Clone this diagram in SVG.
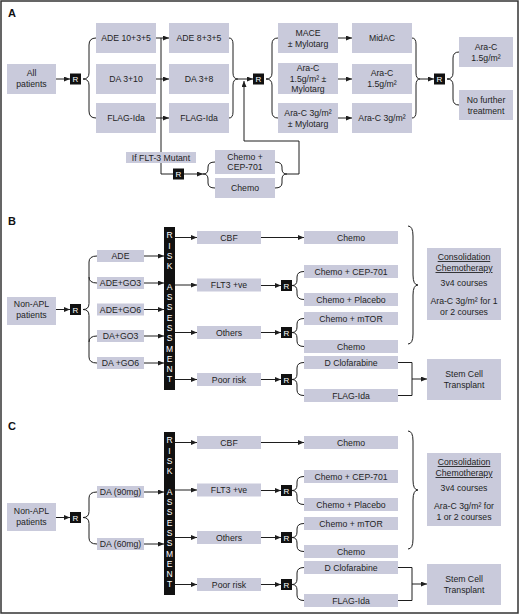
<svg xmlns="http://www.w3.org/2000/svg" width="520" height="615" viewBox="0 0 520 615">
<defs>
<marker id="ah" markerWidth="6" markerHeight="5" refX="6" refY="2.5" orient="auto" markerUnits="userSpaceOnUse"><path d="M0,0 L6,2.5 L0,5 z" fill="#1e1e1e"/></marker>
<style>
.box{fill:#c9cadb}
.t{font-family:"Liberation Sans",Arial,sans-serif;font-size:8.7px;fill:#1e1e1e;text-anchor:middle}
.rb{fill:#111}
.rt{font-family:"Liberation Sans",Arial,sans-serif;font-size:8px;fill:#fff;text-anchor:middle}
.vt{font-family:"Liberation Sans",Arial,sans-serif;font-size:8.5px;fill:#fff;text-anchor:middle}
.ln{stroke:#1e1e1e;stroke-width:1;fill:none}
.ar{marker-end:url(#ah)}
.lbl{font-family:"Liberation Sans",Arial,sans-serif;font-size:11px;font-weight:bold;fill:#111}
.u{text-decoration:underline}
</style>
</defs>
<rect x="0" y="0" width="520" height="615" fill="#fff"/>
<rect x="1" y="1" width="517" height="612" fill="none" stroke="#333" stroke-width="1.5"/>

<!-- ============ A ============ -->
<text class="lbl" x="8" y="17">A</text>
<g id="connectors">
<!-- A -->
<path class="ln ar" d="M56,79 L70,79"/>
<path class="ln" d="M96,38 Q89,38 89,45 L89,73 Q89,79 83,79 Q89,79 89,85 L89,111 Q89,118 96,118"/>
<path class="ln ar" d="M156,38 L169,38"/>
<path class="ln ar" d="M156,79 L169,79"/>
<path class="ln ar" d="M156,118 L169,118"/>
<path class="ln" d="M161,38 L161,174 L173,174"/>
<path class="ln ar" d="M184,174 L203,174"/>
<path class="ln" d="M215,162 Q208,162 208,167 L208,169 Q208,174 203,174 Q208,174 208,179 L208,183 Q208,188 215,188"/>
<path class="ln" d="M275,162 Q282,162 282,167 L282,169 Q282,174 287,174 Q282,174 282,179 L282,183 Q282,188 275,188"/>
<path class="ln ar" d="M287,174 L299,174 L299,141 L244,141 L244,81"/>
<path class="ln" d="M229,38 Q233,38 233,44 L233,73 Q233,79 238,79 Q233,79 233,85 L233,112 Q233,118 229,118"/>
<path class="ln ar" d="M238,79 L253,79"/>
<path class="ln" d="M278,38 Q272,38 272,44 L272,73 Q272,79 266,79 Q272,79 272,85 L272,112 Q272,118 278,118"/>
<path class="ln ar" d="M338,38 L352,38"/>
<path class="ln ar" d="M338,79 L352,79"/>
<path class="ln ar" d="M338,118 L352,118"/>
<path class="ln" d="M412,38 Q416,38 416,44 L416,73 Q416,79 420,79 Q416,79 416,85 L416,112 Q416,118 412,118"/>
<path class="ln ar" d="M420,79 L434,79"/>
<path class="ln" d="M459,52 Q453,52 453,58 L453,73 Q453,79 447,79 Q453,79 453,85 L453,99 Q453,105 459,105"/>

<!-- B -->
<path class="ln ar" d="M56,309.5 L70,309.5"/>
<path class="ln" d="M97,256 Q89,256 89,262 L89,303.5 Q89,309.5 83,309.5 Q89,309.5 89,315.5 L89,357 Q89,363 97,363"/>
<path class="ln" d="M89,277 Q89,283 97,283"/>
<path class="ln" d="M89,342 Q89,336 97,336"/>
<path class="ln ar" d="M144,256 L164,256"/>
<path class="ln ar" d="M144,283 L164,283"/>
<path class="ln ar" d="M144,309.5 L164,309.5"/>
<path class="ln ar" d="M144,336 L164,336"/>
<path class="ln ar" d="M144,363 L164,363"/>
<path class="ln ar" d="M175,237.5 L197,237.5"/>
<path class="ln ar" d="M175,285 L197,285"/>
<path class="ln ar" d="M175,332.5 L197,332.5"/>
<path class="ln ar" d="M175,379.5 L197,379.5"/>
<path class="ln ar" d="M261,237.5 L304,237.5"/>
<path class="ln ar" d="M261,285.5 L281,285.5"/>
<path class="ln ar" d="M261,332.5 L281,332.5"/>
<path class="ln ar" d="M261,379.5 L281,379.5"/>
<path class="ln" d="M304,271.5 Q297,271.5 297,277 L297,280 Q297,285.5 292,285.5 Q297,285.5 297,291 L297,294 Q297,299.5 304,299.5"/>
<path class="ln" d="M304,318.5 Q297,318.5 297,324 L297,327 Q297,332.5 292,332.5 Q297,332.5 297,338 L297,341 Q297,346.5 304,346.5"/>
<path class="ln" d="M304,362.5 Q297,362.5 297,368 L297,374 Q297,379.5 292,379.5 Q297,379.5 297,385 L297,390 Q297,395.5 304,395.5"/>
<path class="ln" d="M398,362.5 L412,362.5 L412,395.5 L398,395.5"/>
<path class="ln ar" d="M412,379 L427,379"/>
<path class="ln" d="M408,226 Q413,226 413,236 L413,275 Q413,285 418,285 Q413,285 413,295 L413,334 Q413,344 408,344"/>

<!-- C -->
<path class="ln ar" d="M56,517.5 L70,517.5"/>
<path class="ln" d="M97,492 Q89,492 89,498 L89,511.5 Q89,517.5 83,517.5 Q89,517.5 89,523.5 L89,538 Q89,544 97,544"/>
<path class="ln ar" d="M144,492 L164,492"/>
<path class="ln ar" d="M144,544 L164,544"/>
<path class="ln ar" d="M175,442.5 L197,442.5"/>
<path class="ln ar" d="M175,490 L197,490"/>
<path class="ln ar" d="M175,537.5 L197,537.5"/>
<path class="ln ar" d="M175,584.5 L197,584.5"/>
<path class="ln ar" d="M261,442.5 L304,442.5"/>
<path class="ln ar" d="M261,490.5 L281,490.5"/>
<path class="ln ar" d="M261,537.5 L281,537.5"/>
<path class="ln ar" d="M261,584.5 L281,584.5"/>
<path class="ln" d="M304,476.5 Q297,476.5 297,482 L297,485 Q297,490.5 292,490.5 Q297,490.5 297,496 L297,499 Q297,504.5 304,504.5"/>
<path class="ln" d="M304,523.5 Q297,523.5 297,529 L297,532 Q297,537.5 292,537.5 Q297,537.5 297,543 L297,546 Q297,551.5 304,551.5"/>
<path class="ln" d="M304,567.5 Q297,567.5 297,573 L297,579 Q297,584.5 292,584.5 Q297,584.5 297,590 L297,595 Q297,600.5 304,600.5"/>
<path class="ln" d="M398,567.5 L412,567.5 L412,600.5 L398,600.5"/>
<path class="ln ar" d="M412,584 L427,584"/>
<path class="ln" d="M408,431 Q413,431 413,441 L413,480 Q413,490 418,490 Q413,490 413,500 L413,539 Q413,549 408,549"/>
</g>

<!-- A nodes -->
<g id="a-all"><rect class="box" x="7" y="64" width="49" height="30"/><text class="t" x="31.5" y="76">All</text><text class="t" x="31.5" y="87">patients</text></g>
<g id="a-r1"><rect class="rb" x="70" y="73.5" width="11" height="11"/><text class="rt" x="75.5" y="82">R</text></g>
<g id="a-ade1"><rect class="box" x="96" y="23" width="60" height="30"/><text class="t" x="126" y="41">ADE 10+3+5</text></g>
<g id="a-da1"><rect class="box" x="96" y="64" width="60" height="30"/><text class="t" x="126" y="82">DA 3+10</text></g>
<g id="a-flag1"><rect class="box" x="96" y="103" width="60" height="30"/><text class="t" x="126" y="121">FLAG-Ida</text></g>
<g id="a-flt3"><rect class="box" x="126" y="152" width="70" height="11"/><text class="t" x="161" y="160.5">If FLT-3 Mutant</text></g>
<g id="a-r2"><rect class="rb" x="173" y="168.5" width="11" height="11"/><text class="rt" x="178.5" y="177">R</text></g>
<g id="a-cep"><rect class="box" x="215" y="150" width="60" height="24"/><text class="t" x="245" y="160">Chemo +</text><text class="t" x="245" y="170">CEP-701</text></g>
<g id="a-chemo"><rect class="box" x="215" y="178" width="60" height="20"/><text class="t" x="245" y="191">Chemo</text></g>
<g id="a-ade2"><rect class="box" x="169" y="23" width="60" height="30"/><text class="t" x="199" y="41">ADE 8+3+5</text></g>
<g id="a-da2"><rect class="box" x="169" y="64" width="60" height="30"/><text class="t" x="199" y="82">DA 3+8</text></g>
<g id="a-flag2"><rect class="box" x="169" y="103" width="60" height="30"/><text class="t" x="199" y="121">FLAG-Ida</text></g>
<g id="a-r3"><rect class="rb" x="253" y="73.5" width="11" height="11"/><text class="rt" x="258.5" y="82">R</text></g>
<g id="a-mace"><rect class="box" x="278" y="23" width="60" height="30"/><text class="t" x="308" y="36">MACE</text><text class="t" x="308" y="47">± Mylotarg</text></g>
<g id="a-arac15m"><rect class="box" x="278" y="63" width="60" height="31"/><text class="t" x="308" y="71">Ara-C</text><text class="t" x="308" y="81.5">1.5g/m² ±</text><text class="t" x="308" y="92">Mylotarg</text></g>
<g id="a-arac3m"><rect class="box" x="278" y="103" width="60" height="30"/><text class="t" x="308" y="116">Ara-C 3g/m²</text><text class="t" x="308" y="127">± Mylotarg</text></g>
<g id="a-midac"><rect class="box" x="352" y="23" width="60" height="30"/><text class="t" x="382" y="41">MidAC</text></g>
<g id="a-arac15"><rect class="box" x="352" y="64" width="60" height="30"/><text class="t" x="382" y="76">Ara-C</text><text class="t" x="382" y="87">1.5g/m²</text></g>
<g id="a-arac3"><rect class="box" x="352" y="103" width="60" height="30"/><text class="t" x="382" y="121">Ara-C 3g/m²</text></g>
<g id="a-r4"><rect class="rb" x="434" y="73.5" width="11" height="11"/><text class="rt" x="439.5" y="82">R</text></g>
<g id="a-arac15b"><rect class="box" x="459" y="37" width="54" height="30"/><text class="t" x="486" y="50">Ara-C</text><text class="t" x="486" y="60.5">1.5g/m²</text></g>
<g id="a-nofurther"><rect class="box" x="459" y="90" width="54" height="30"/><text class="t" x="486" y="103">No further</text><text class="t" x="486" y="114">treatment</text></g>

<!-- ============ B ============ -->
<text class="lbl" x="8" y="225">B</text>
<g id="b-nonapl"><rect class="box" x="7" y="297" width="49" height="28"/><text class="t" x="31.5" y="307">Non-APL</text><text class="t" x="31.5" y="318">patients</text></g>
<g id="b-r"><rect class="rb" x="70" y="304" width="11" height="11"/><text class="rt" x="75.5" y="312.5">R</text></g>
<g id="b-ade"><rect class="box" x="97" y="250" width="47" height="12"/><text class="t" x="120.5" y="259">ADE</text></g>
<g id="b-adego3"><rect class="box" x="97" y="277" width="47" height="12"/><text class="t" x="120.5" y="286">ADE+GO3</text></g>
<g id="b-adego6"><rect class="box" x="97" y="303.5" width="47" height="12"/><text class="t" x="120.5" y="312.5">ADE+GO6</text></g>
<g id="b-dago3"><rect class="box" x="97" y="330" width="47" height="12"/><text class="t" x="120.5" y="339">DA+GO3</text></g>
<g id="b-dago6"><rect class="box" x="97" y="357" width="47" height="12"/><text class="t" x="120.5" y="366">DA +GO6</text></g>
<g id="b-risk"><rect class="rb" x="164" y="227" width="11" height="163"/>
<text class="vt"><tspan x="169.5" y="238.2">R</tspan><tspan x="169.5" y="248.5">I</tspan><tspan x="169.5" y="258.8">S</tspan><tspan x="169.5" y="269.1">K</tspan><tspan x="169.5" y="279.4"> </tspan><tspan x="169.5" y="289.7">A</tspan><tspan x="169.5" y="300">S</tspan><tspan x="169.5" y="310.3">S</tspan><tspan x="169.5" y="320.6">E</tspan><tspan x="169.5" y="330.9">S</tspan><tspan x="169.5" y="341.2">S</tspan><tspan x="169.5" y="351.5">M</tspan><tspan x="169.5" y="361.8">E</tspan><tspan x="169.5" y="372.1">N</tspan><tspan x="169.5" y="382.4">T</tspan></text></g>
<g id="b-cbf"><rect class="box" x="197" y="231" width="64" height="13"/><text class="t" x="229" y="240.5">CBF</text></g>
<g id="b-flt3"><rect class="box" x="197" y="278.5" width="64" height="13"/><text class="t" x="229" y="288">FLT3 +ve</text></g>
<g id="b-others"><rect class="box" x="197" y="326" width="64" height="13"/><text class="t" x="229" y="335.5">Others</text></g>
<g id="b-poor"><rect class="box" x="197" y="373" width="64" height="13"/><text class="t" x="229" y="382.5">Poor risk</text></g>
<g id="b-chemo1"><rect class="box" x="304" y="231" width="94" height="13"/><text class="t" x="351" y="240.5">Chemo</text></g>
<g id="b-r2"><rect class="rb" x="281" y="280" width="11" height="11"/><text class="rt" x="286.5" y="288.5">R</text></g>
<g id="b-cep"><rect class="box" x="304" y="265" width="94" height="13"/><text class="t" x="351" y="274.5">Chemo + CEP-701</text></g>
<g id="b-placebo"><rect class="box" x="304" y="293" width="94" height="13"/><text class="t" x="351" y="302.5">Chemo + Placebo</text></g>
<g id="b-r3"><rect class="rb" x="281" y="327" width="11" height="11"/><text class="rt" x="286.5" y="335.5">R</text></g>
<g id="b-mtor"><rect class="box" x="304" y="312" width="94" height="13"/><text class="t" x="351" y="321.5">Chemo + mTOR</text></g>
<g id="b-chemo2"><rect class="box" x="304" y="340" width="94" height="13"/><text class="t" x="351" y="349.5">Chemo</text></g>
<g id="b-r4"><rect class="rb" x="281" y="374" width="11" height="11"/><text class="rt" x="286.5" y="382.5">R</text></g>
<g id="b-clof"><rect class="box" x="304" y="356" width="94" height="13"/><text class="t" x="351" y="365.5">D Clofarabine</text></g>
<g id="b-flag"><rect class="box" x="304" y="389" width="94" height="13"/><text class="t" x="351" y="398.5">FLAG-Ida</text></g>
<g id="b-consol"><rect class="box" x="427" y="248" width="74" height="72"/><text class="t u" x="464" y="260">Consolidation</text><text class="t u" x="464" y="271">Chemotherapy</text><text class="t" x="464" y="286">3v4 courses</text><text class="t" x="464" y="304">Ara-C 3g/m² for 1</text><text class="t" x="464" y="315">or 2 courses</text></g>
<g id="b-stem"><rect class="box" x="427" y="359" width="74" height="41"/><text class="t" x="464" y="377">Stem Cell</text><text class="t" x="464" y="388">Transplant</text></g>

<!-- ============ C ============ -->
<text class="lbl" x="8" y="430">C</text>
<g id="c-nonapl"><rect class="box" x="7" y="503" width="49" height="28"/><text class="t" x="31.5" y="514">Non-APL</text><text class="t" x="31.5" y="525">patients</text></g>
<g id="c-r"><rect class="rb" x="70" y="512" width="11" height="11"/><text class="rt" x="75.5" y="520.5">R</text></g>
<g id="c-da90"><rect class="box" x="97" y="486" width="47" height="12"/><text class="t" x="120.5" y="495">DA (90mg)</text></g>
<g id="c-da60"><rect class="box" x="97" y="538" width="47" height="12"/><text class="t" x="120.5" y="547">DA (60mg)</text></g>
<g id="c-risk"><rect class="rb" x="164" y="432" width="11" height="163"/>
<text class="vt"><tspan x="169.5" y="443.2">R</tspan><tspan x="169.5" y="453.5">I</tspan><tspan x="169.5" y="463.8">S</tspan><tspan x="169.5" y="474.1">K</tspan><tspan x="169.5" y="484.4"> </tspan><tspan x="169.5" y="494.7">A</tspan><tspan x="169.5" y="505">S</tspan><tspan x="169.5" y="515.3">S</tspan><tspan x="169.5" y="525.6">E</tspan><tspan x="169.5" y="535.9">S</tspan><tspan x="169.5" y="546.2">S</tspan><tspan x="169.5" y="556.5">M</tspan><tspan x="169.5" y="566.8">E</tspan><tspan x="169.5" y="577.1">N</tspan><tspan x="169.5" y="587.4">T</tspan></text></g>
<g id="c-cbf"><rect class="box" x="197" y="436" width="64" height="13"/><text class="t" x="229" y="445.5">CBF</text></g>
<g id="c-flt3"><rect class="box" x="197" y="483.5" width="64" height="13"/><text class="t" x="229" y="493">FLT3 +ve</text></g>
<g id="c-others"><rect class="box" x="197" y="531" width="64" height="13"/><text class="t" x="229" y="540.5">Others</text></g>
<g id="c-poor"><rect class="box" x="197" y="578" width="64" height="13"/><text class="t" x="229" y="587.5">Poor risk</text></g>
<g id="c-chemo1"><rect class="box" x="304" y="436" width="94" height="13"/><text class="t" x="351" y="445.5">Chemo</text></g>
<g id="c-r2"><rect class="rb" x="281" y="485" width="11" height="11"/><text class="rt" x="286.5" y="493.5">R</text></g>
<g id="c-cep"><rect class="box" x="304" y="470" width="94" height="13"/><text class="t" x="351" y="479.5">Chemo + CEP-701</text></g>
<g id="c-placebo"><rect class="box" x="304" y="498" width="94" height="13"/><text class="t" x="351" y="507.5">Chemo + Placebo</text></g>
<g id="c-r3"><rect class="rb" x="281" y="532" width="11" height="11"/><text class="rt" x="286.5" y="540.5">R</text></g>
<g id="c-mtor"><rect class="box" x="304" y="517" width="94" height="13"/><text class="t" x="351" y="526.5">Chemo + mTOR</text></g>
<g id="c-chemo2"><rect class="box" x="304" y="545" width="94" height="13"/><text class="t" x="351" y="554.5">Chemo</text></g>
<g id="c-r4"><rect class="rb" x="281" y="579" width="11" height="11"/><text class="rt" x="286.5" y="587.5">R</text></g>
<g id="c-clof"><rect class="box" x="304" y="561" width="94" height="13"/><text class="t" x="351" y="570.5">D Clofarabine</text></g>
<g id="c-flag"><rect class="box" x="304" y="594" width="94" height="13"/><text class="t" x="351" y="603.5">FLAG-Ida</text></g>
<g id="c-consol"><rect class="box" x="427" y="453" width="74" height="73"/><text class="t u" x="464" y="465">Consolidation</text><text class="t u" x="464" y="476">Chemotherapy</text><text class="t" x="464" y="491">3v4 courses</text><text class="t" x="464" y="509">Ara-C 3g/m² for</text><text class="t" x="464" y="520">1 or 2 courses</text></g>
<g id="c-stem"><rect class="box" x="427" y="564" width="74" height="41"/><text class="t" x="464" y="582">Stem Cell</text><text class="t" x="464" y="593">Transplant</text></g>
</svg>
